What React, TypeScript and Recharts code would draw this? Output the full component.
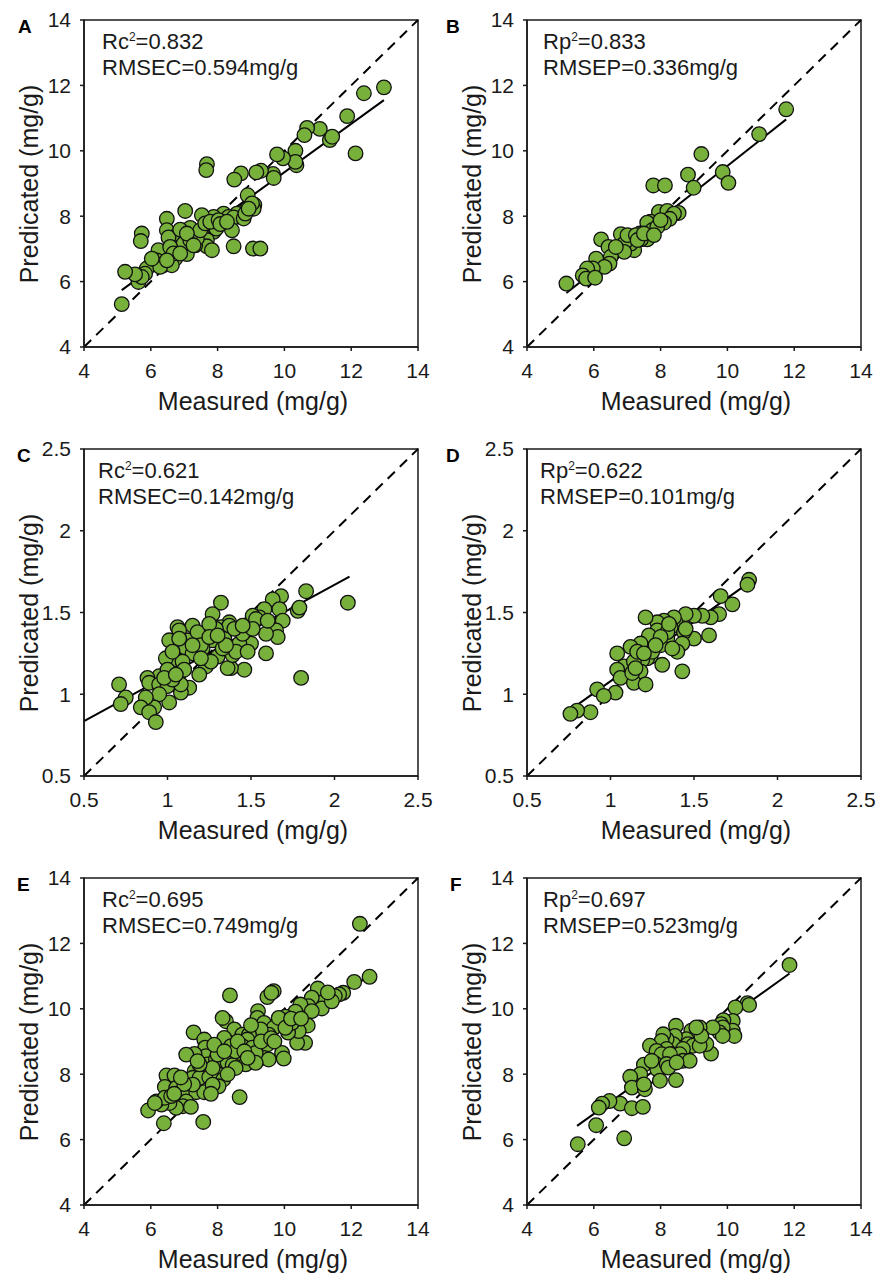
import { ScatterChart, Scatter, XAxis, YAxis, ReferenceLine, ReferenceArea } from 'recharts';

const FONT = '"Liberation Sans", Arial, Helvetica, sans-serif';
const GREEN = '#77b03a';
const INK = '#1a1a1a';

// axis ticks
const ticksWide = [4, 6, 8, 10, 12, 14];
const ticksNarrow = [0.5, 1, 1.5, 2, 2.5];

// A: calibration set (measured, predicted)
const pointsA: [number, number][] = [
  [12.98, 11.94], [12.38, 11.76], [11.88, 11.06], [12.13, 9.92], [11.36, 10.33], [11.43, 10.43],
  [11.06, 10.67], [10.68, 10.7], [10.6, 10.48], [10.33, 10.0], [10.36, 9.56], [10.33, 9.66],
  [9.96, 9.77], [9.78, 9.89], [9.66, 9.29], [9.68, 9.17], [9.3, 9.39], [9.16, 9.34],
  [8.7, 9.31], [8.5, 9.12], [7.68, 9.59], [7.66, 9.41], [8.9, 8.64], [9.1, 8.35],
  [9.08, 8.23], [8.85, 8.18], [8.68, 7.98], [8.58, 8.08], [8.18, 8.08], [8.33, 7.98],
  [8.48, 7.96], [7.88, 7.98], [7.53, 8.03], [7.03, 8.16], [6.48, 7.92], [6.48, 7.57],
  [7.18, 7.64], [8.43, 7.57], [7.88, 7.52], [7.96, 7.62], [7.53, 7.47], [7.68, 7.27],
  [6.78, 7.41], [6.53, 7.35], [5.73, 7.47], [5.7, 7.24], [8.48, 7.08], [9.06, 7.01],
  [9.28, 7.01], [7.68, 7.08], [7.83, 6.96], [7.08, 6.84], [7.33, 7.11], [6.73, 6.7],
  [6.43, 6.81], [6.23, 6.96], [6.18, 6.65], [6.38, 6.5], [6.63, 6.5], [6.13, 6.55],
  [5.88, 6.4], [5.83, 6.24], [5.63, 5.99], [5.73, 6.14], [5.53, 6.22], [5.23, 6.3],
  [5.13, 5.31], [6.88, 7.06], [6.98, 7.16], [7.18, 7.27], [7.38, 7.32], [7.48, 7.57],
  [7.63, 7.78], [7.78, 7.83], [8.03, 7.88], [8.08, 7.76], [8.28, 7.83], [8.78, 7.93],
  [8.83, 8.08], [9.03, 8.39], [8.93, 8.23], [6.58, 7.06], [6.68, 6.86], [6.88, 6.86],
  [6.28, 6.45], [6.48, 6.65], [6.03, 6.7], [6.88, 7.59], [7.08, 7.47], [7.28, 7.11],
];
const fitA = [{ x: 5.13, y: 5.74 }, { x: 12.98, y: 11.55 }];

// B: prediction set
const pointsB: [number, number][] = [
  [11.76, 11.27], [10.95, 10.51], [9.22, 9.9], [8.82, 9.27], [9.86, 9.35], [10.03, 9.02],
  [7.78, 8.94], [8.13, 8.94], [8.99, 8.87], [7.95, 8.13], [8.2, 8.16], [8.54, 8.1],
  [8.4, 8.08], [8.27, 7.92], [8.1, 7.8], [7.7, 7.83], [7.6, 7.8], [7.65, 7.47],
  [7.6, 7.29], [7.41, 7.29], [7.38, 7.47], [7.21, 6.96], [7.11, 7.16], [6.81, 7.45],
  [6.91, 7.16], [6.71, 6.96], [6.91, 6.91], [6.22, 7.29], [6.44, 7.06], [6.51, 6.76],
  [6.47, 6.55], [6.07, 6.7], [6.32, 6.45], [5.97, 6.4], [5.8, 6.4], [5.67, 6.19],
  [5.77, 6.09], [6.04, 6.12], [5.18, 5.94], [7.01, 7.42], [7.26, 7.42], [7.75, 7.57],
  [7.9, 7.67], [8.0, 7.88], [7.31, 7.27], [7.5, 7.47], [7.8, 7.42], [6.66, 7.06],
];
const fitB = [{ x: 5.18, y: 5.65 }, { x: 11.76, y: 10.96 }];

// C: calibration set
const pointsC: [number, number][] = [
  [2.08, 1.56], [1.83, 1.63], [1.8, 1.1], [1.68, 1.6], [1.63, 1.58], [1.78, 1.51],
  [1.79, 1.53], [1.67, 1.52], [1.69, 1.45], [1.65, 1.39], [1.66, 1.35], [1.59, 1.37],
  [1.59, 1.25], [1.58, 1.52], [1.55, 1.47], [1.51, 1.48], [1.53, 1.46], [1.5, 1.31],
  [1.32, 1.56], [1.27, 1.49], [1.37, 1.44], [1.32, 1.41], [1.34, 1.34], [1.27, 1.33],
  [1.23, 1.38], [1.19, 1.32], [1.15, 1.42], [1.06, 1.41], [1.07, 1.39], [1.01, 1.33],
  [1.12, 1.33], [1.11, 1.28], [1.15, 1.25], [1.06, 1.21], [0.99, 1.22], [1.09, 1.2],
  [1.43, 1.31], [1.45, 1.37], [1.46, 1.15], [1.38, 1.16], [1.36, 1.16], [1.39, 1.24],
  [1.41, 1.26], [1.3, 1.23], [1.23, 1.17], [1.19, 1.12], [1.13, 1.04], [1.08, 1.01],
  [0.95, 1.11], [0.88, 1.1], [0.89, 1.07], [0.95, 1.06], [1.0, 1.05], [1.01, 0.95],
  [1.06, 1.09], [1.08, 1.06], [0.95, 1.0], [0.92, 0.92], [0.87, 0.98], [0.84, 0.92],
  [0.89, 0.89], [0.93, 0.83], [0.71, 1.06], [0.75, 0.98], [0.72, 0.94], [1.26, 1.2],
  [1.33, 1.28], [1.48, 1.26], [1.51, 1.4], [1.37, 1.42], [1.21, 1.28], [1.18, 1.38],
  [1.07, 1.34], [1.03, 1.26], [1.0, 1.15], [1.03, 1.09], [1.29, 1.4], [1.25, 1.43],
  [1.2, 1.3], [1.25, 1.35], [1.35, 1.3], [1.1, 1.15], [1.15, 1.3], [1.3, 1.36],
  [1.4, 1.4], [1.45, 1.42], [0.98, 1.1], [1.05, 1.12], [1.2, 1.22], [1.6, 1.45],
];
const fitC = [{ x: 0.5, y: 0.836 }, { x: 2.09, y: 1.72 }];

// D: prediction set
const pointsD: [number, number][] = [
  [1.83, 1.7], [1.82, 1.67], [1.73, 1.55], [1.66, 1.6], [1.65, 1.49], [1.6, 1.47],
  [1.55, 1.48], [1.5, 1.48], [1.45, 1.49], [1.59, 1.36], [1.5, 1.34], [1.44, 1.38],
  [1.43, 1.31], [1.4, 1.26], [1.43, 1.14], [1.39, 1.44], [1.38, 1.47], [1.32, 1.45],
  [1.28, 1.44], [1.21, 1.47], [1.28, 1.39], [1.26, 1.34], [1.23, 1.36], [1.34, 1.34],
  [1.3, 1.3], [1.18, 1.31], [1.12, 1.29], [1.24, 1.23], [1.22, 1.22], [1.31, 1.18],
  [1.19, 1.21], [1.18, 1.14], [1.04, 1.25], [1.08, 1.17], [1.04, 1.15], [1.06, 1.1],
  [1.14, 1.07], [1.21, 1.06], [1.03, 1.01], [0.92, 1.03], [0.96, 0.99], [0.88, 0.89],
  [0.8, 0.9], [0.76, 0.88], [1.14, 1.2], [1.16, 1.26], [1.13, 1.13], [1.36, 1.41],
  [1.34, 1.38], [1.25, 1.26], [1.37, 1.28], [1.3, 1.35], [1.27, 1.3], [1.35, 1.43],
  [1.45, 1.4], [1.2, 1.25], [1.15, 1.16],
];
const fitD = [{ x: 0.78, y: 0.92 }, { x: 1.84, y: 1.69 }];

// E: calibration set
const pointsE: [number, number][] = [
  [12.26, 12.6], [12.55, 10.98], [12.09, 10.82], [11.76, 10.49], [11.64, 10.44], [11.51, 10.39],
  [11.22, 10.32], [11.0, 10.62], [11.12, 10.01], [10.82, 10.34], [10.72, 10.08], [10.48, 10.13],
  [10.33, 9.91], [10.03, 9.76], [9.96, 9.64], [10.7, 9.49], [10.62, 8.96], [10.38, 8.96],
  [10.43, 9.32], [10.11, 9.27], [10.23, 9.57], [9.68, 10.54], [9.49, 10.36], [9.61, 10.49],
  [8.37, 10.41], [9.21, 9.93], [9.19, 9.72], [9.39, 9.57], [9.68, 9.42], [9.53, 9.21],
  [9.29, 9.37], [8.25, 9.62], [8.5, 9.37], [8.2, 9.11], [8.74, 9.21], [8.94, 9.21],
  [8.89, 9.06], [9.49, 8.91], [9.39, 8.5], [9.53, 8.45], [9.93, 8.65], [9.98, 8.48],
  [8.4, 8.86], [8.74, 8.86], [8.94, 8.6], [9.04, 8.81], [9.14, 8.65], [8.69, 8.55],
  [8.84, 8.3], [7.28, 9.28], [7.6, 9.06], [7.63, 8.81], [7.65, 8.55], [7.31, 8.62],
  [7.06, 8.6], [7.7, 8.3], [7.95, 8.45], [8.1, 8.3], [8.3, 8.35], [8.45, 8.28],
  [8.54, 8.19], [7.31, 8.09], [7.26, 7.89], [7.46, 7.89], [7.75, 7.91], [8.05, 7.99],
  [8.17, 7.84], [8.03, 7.63], [6.47, 7.96], [6.71, 7.96], [6.42, 7.61], [6.76, 7.58],
  [6.86, 7.4], [7.08, 7.38], [7.36, 7.45], [7.6, 7.45], [7.06, 7.17], [6.96, 7.02],
  [6.76, 6.97], [6.56, 7.12], [6.32, 7.07], [6.17, 7.17], [5.92, 6.89], [6.39, 6.5],
  [7.57, 6.54], [8.66, 7.3], [6.42, 7.28], [6.61, 7.33], [7.26, 7.68], [7.85, 7.68],
  [8.15, 9.72], [9.83, 9.72], [10.03, 9.42], [10.82, 9.93], [11.42, 10.23], [9.14, 8.35],
  [8.54, 8.7], [7.85, 8.19], [7.46, 8.3], [6.12, 7.12], [9.0, 9.5], [8.6, 9.0],
  [9.3, 9.0], [8.0, 8.6], [7.9, 8.9], [8.8, 8.7], [9.6, 9.1], [10.2, 9.7],
  [7.0, 7.7], [6.9, 7.9], [7.4, 8.4], [8.3, 8.0], [8.9, 8.5], [9.7, 9.0],
  [10.5, 9.7], [11.3, 10.5], [6.7, 7.4], [7.2, 7.0], [7.8, 7.4], [8.2, 8.7],
];
const fitE = [{ x: 5.95, y: 7.05 }, { x: 12.55, y: 11.0 }];

// F: prediction set
const pointsF: [number, number][] = [
  [11.86, 11.34], [10.6, 10.17], [10.65, 10.12], [10.24, 10.04], [10.16, 9.63], [10.16, 9.33],
  [10.21, 9.17], [9.88, 9.65], [9.81, 9.53], [9.86, 9.43], [9.76, 9.28], [9.86, 9.17],
  [9.56, 9.43], [9.51, 8.63], [9.37, 8.92], [9.17, 9.43], [9.12, 9.22], [8.97, 9.17],
  [8.92, 9.33], [8.77, 9.07], [8.82, 8.92], [8.97, 8.87], [9.17, 8.87], [8.46, 9.48],
  [8.43, 9.17], [8.38, 8.92], [8.18, 9.07], [8.08, 9.22], [8.03, 9.02], [8.18, 8.77],
  [8.33, 8.61], [8.67, 8.77], [8.57, 8.61], [8.67, 8.41], [8.87, 8.41], [7.68, 8.87],
  [7.88, 8.71], [8.03, 8.61], [8.28, 8.61], [7.5, 8.29], [7.83, 8.33], [7.9, 8.15],
  [8.18, 8.31], [8.23, 8.2], [7.98, 7.8], [8.46, 7.82], [7.39, 8.0], [7.19, 7.69],
  [7.09, 7.92], [7.14, 7.59], [7.53, 7.54], [7.5, 7.69], [6.79, 7.1], [6.47, 7.18],
  [6.25, 7.1], [6.15, 6.98], [7.14, 6.96], [7.47, 7.0], [6.07, 6.44], [6.91, 6.04],
  [5.52, 5.86], [7.73, 8.41], [8.48, 8.36], [9.22, 9.17], [9.07, 9.43],
];
const fitF = [{ x: 5.5, y: 6.42 }, { x: 11.86, y: 11.08 }];

const Dot = (p: any) => (
  <circle cx={p.cx} cy={p.cy} r={7.3} fill={GREEN} stroke="#111" strokeWidth={1.3} />
);

type PanelProps = {
  letter: string;
  letterX: number;
  points: [number, number][];
  fit: { x: number; y: number }[];
  ticks: number[];
  r2Sub: string;
  r2: string;
  rmseName: string;
  rmse: string;
  textX: number;
};

function Panel({ letter, letterX, points, fit, ticks, r2Sub, r2, rmseName, rmse, textX }: PanelProps) {
  const lo = ticks[0];
  const hi = ticks[ticks.length - 1];
  const data = points.map(([x, y]) => ({ x, y }));
  return (
    <ScatterChart width={440} height={429} margin={{ top: 20, right: 22, bottom: 0, left: 0 }} style={{ fontFamily: FONT }}>
      <XAxis
        type="number"
        dataKey="x"
        domain={[lo, hi]}
        ticks={ticks}
        interval={0}
        allowDataOverflow
        height={82}
        tickSize={4}
        tickMargin={12}
        stroke={INK}
        strokeWidth={1.5}
        tick={{ fontSize: 21, fill: INK }}
      />
      <YAxis
        type="number"
        dataKey="y"
        domain={[lo, hi]}
        ticks={ticks}
        interval={0}
        allowDataOverflow
        width={84}
        tickSize={4}
        tickMargin={9}
        stroke={INK}
        strokeWidth={1.5}
        tick={{ fontSize: 21, fill: INK }}
      />
      <ReferenceArea x1={lo} x2={hi} y1={lo} y2={hi} fill="none" stroke={INK} strokeWidth={1.5} />
      <ReferenceLine segment={[{ x: lo, y: lo }, { x: hi, y: hi }]} stroke="#000" strokeWidth={2} strokeDasharray="10 7" />
      <ReferenceLine segment={fit} stroke="#000" strokeWidth={2} />
      <Scatter data={data} shape={Dot} isAnimationActive={false} />
      <text x={letterX} y={33} fontSize={19} fontWeight="bold" fill="#000" fontFamily={FONT}>{letter}</text>
      <text x={84 + textX} y={49} fontSize={22} fill={INK} fontFamily={FONT}>
        <tspan>{'R' + r2Sub}</tspan>
        <tspan dy={-8} fontSize={12}>2</tspan>
        <tspan dy={8}>{'=' + r2}</tspan>
      </text>
      <text x={84 + textX} y={75} fontSize={22} fill={INK} fontFamily={FONT}>{rmseName + '=' + rmse + 'mg/g'}</text>
      <text x={253} y={410} fontSize={25} textAnchor="middle" fill={INK} fontFamily={FONT}>Measured (mg/g)</text>
      <text x={38} y={184} fontSize={25} textAnchor="middle" fill={INK} fontFamily={FONT} transform="rotate(-90 38 184)">Predicated (mg/g)</text>
    </ScatterChart>
  );
}

const panels: (PanelProps & { col: number; row: number })[] = [
  { col: 0, row: 0, letter: 'A', letterX: 18, points: pointsA, fit: fitA, ticks: ticksWide, r2Sub: 'c', r2: '0.832', rmseName: 'RMSEC', rmse: '0.594', textX: 18 },
  { col: 1, row: 0, letter: 'B', letterX: 3, points: pointsB, fit: fitB, ticks: ticksWide, r2Sub: 'p', r2: '0.833', rmseName: 'RMSEP', rmse: '0.336', textX: 16 },
  { col: 0, row: 1, letter: 'C', letterX: 17, points: pointsC, fit: fitC, ticks: ticksNarrow, r2Sub: 'c', r2: '0.621', rmseName: 'RMSEC', rmse: '0.142', textX: 14 },
  { col: 1, row: 1, letter: 'D', letterX: 3, points: pointsD, fit: fitD, ticks: ticksNarrow, r2Sub: 'p', r2: '0.622', rmseName: 'RMSEP', rmse: '0.101', textX: 13 },
  { col: 0, row: 2, letter: 'E', letterX: 17, points: pointsE, fit: fitE, ticks: ticksWide, r2Sub: 'c', r2: '0.695', rmseName: 'RMSEC', rmse: '0.749', textX: 18 },
  { col: 1, row: 2, letter: 'F', letterX: 7, points: pointsF, fit: fitF, ticks: ticksWide, r2Sub: 'p', r2: '0.697', rmseName: 'RMSEP', rmse: '0.523', textX: 16 },
];

export default function App() {
  return (
    <div style={{ position: 'absolute', top: 0, left: 0, width: 877, height: 1275, background: '#fff', fontFamily: FONT }}>
      {panels.map((p) => (
        <div key={p.letter} style={{ position: 'absolute', left: p.col * 443, top: p.row * 429 }}>
          <Panel {...p} />
        </div>
      ))}
    </div>
  );
}
